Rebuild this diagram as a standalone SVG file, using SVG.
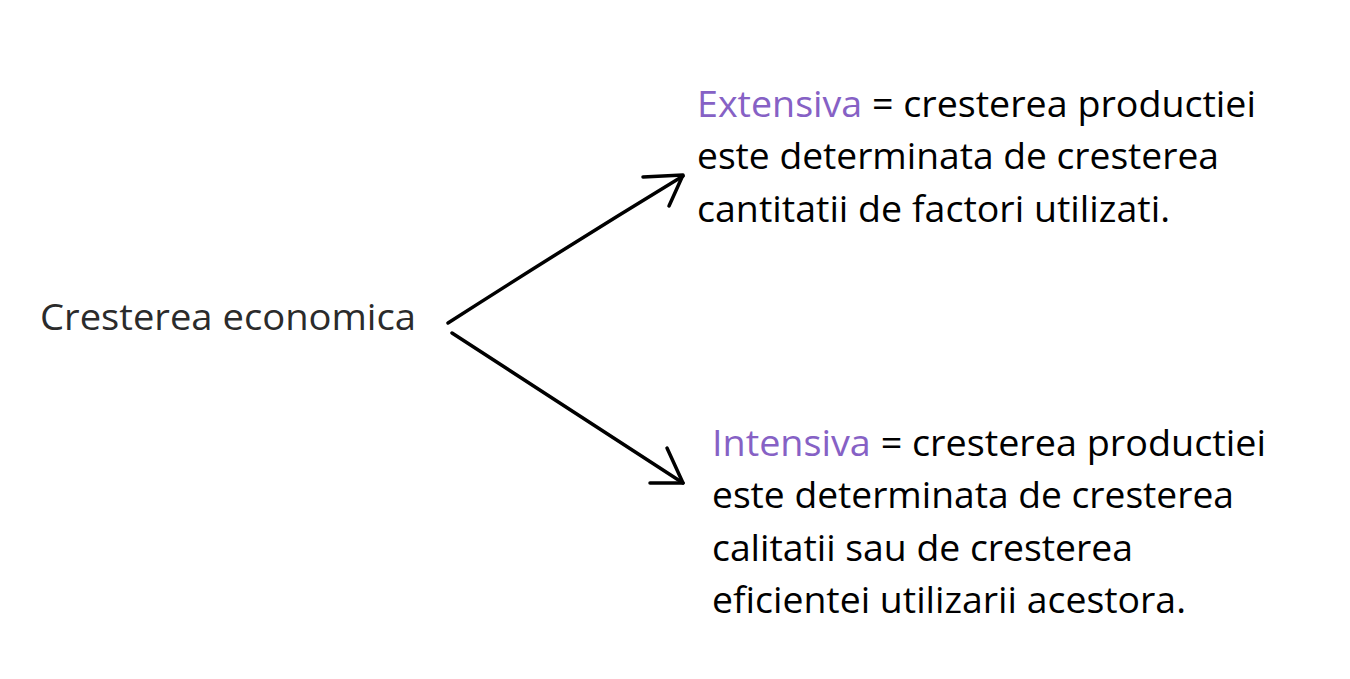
<svg xmlns="http://www.w3.org/2000/svg" width="1350" height="679" viewBox="0 0 1350 679">
<style>
text{font-family:"Segoe UI","Open Sans","Noto Sans",sans-serif;}
.main{font-size:36px;fill:#2b2b2b;}
.body{font-size:36px;fill:#000;}
.hl{fill:#8661c5;}
.arrow{fill:none;stroke:#000;stroke-width:3.5;stroke-linecap:round;stroke-linejoin:round;}
</style>
<rect width="1350" height="679" fill="#fff"/>
<g id="connectors">
<path class="arrow" d="M448 323 Q568 246 683 176"/>
<path class="arrow" d="M643 177 L683 175 L669 206"/>
<path class="arrow" d="M452 333 L683 483"/>
<path class="arrow" d="M667 448 L683 483 L650 483"/>
</g>
<g id="node-cresterea">
<text class="main" x="40" y="330" textLength="376" lengthAdjust="spacingAndGlyphs">Cresterea economica</text>
</g>
<g id="node-extensiva">
<text class="body" x="697" y="117" textLength="559" lengthAdjust="spacingAndGlyphs"><tspan class="hl">Extensiva</tspan> = cresterea productiei</text>
<text class="body" x="697" y="169" textLength="522" lengthAdjust="spacingAndGlyphs">este determinata de cresterea</text>
<text class="body" x="697" y="222" textLength="473" lengthAdjust="spacingAndGlyphs">cantitatii de factori utilizati.</text>
</g>
<g id="node-intensiva">
<text class="body" x="712" y="456" textLength="554" lengthAdjust="spacingAndGlyphs"><tspan class="hl">Intensiva</tspan> = cresterea productiei</text>
<text class="body" x="712" y="508" textLength="522" lengthAdjust="spacingAndGlyphs">este determinata de cresterea</text>
<text class="body" x="712" y="561" textLength="421" lengthAdjust="spacingAndGlyphs">calitatii sau de cresterea</text>
<text class="body" x="712" y="613" textLength="474" lengthAdjust="spacingAndGlyphs">eficientei utilizarii acestora.</text>
</g>
</svg>
